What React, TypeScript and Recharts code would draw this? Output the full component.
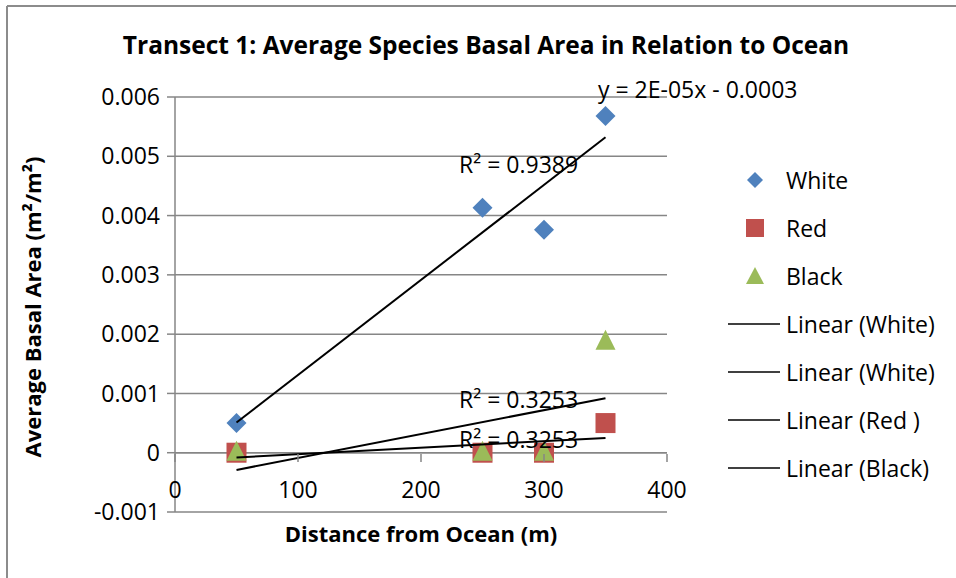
import { CartesianGrid, ReferenceLine, Scatter, ScatterChart, XAxis, YAxis } from "recharts";

const distances = [50, 250, 300, 350];
const whiteArea = [0.0005, 0.00413, 0.00376, 0.00568];
const redArea = [0, 0, 0, 0.0005];
const blackArea = [0, 0, 0, 0.00187];

// trendline end points
const fitX = [50, 350];
const whiteFit = [0.00051, 0.00532];
const redFit = [-0.00008, 0.00025];
const blackFit = [-0.00029, 0.00092];

const xTicks = [0, 100, 200, 300, 400];
const yTicks = [-0.001, 0, 0.001, 0.002, 0.003, 0.004, 0.005, 0.006];

const toPoints = (xs: number[], ys: number[]) => xs.map((x, i) => ({ x, y: ys[i] }));

const BLUE = "#4F81BD";
const RED = "#C0504D";
const GREEN = "#9BBB59";
const GRID = "#868686";
const FONT = "'Open Sans', Lato, sans-serif";

const Diamond = (p: any) => {
  const { cx, cy } = p;
  const r = 10;
  return <path d={`M${cx},${cy - r}L${cx + r},${cy}L${cx},${cy + r}L${cx - r},${cy}Z`} fill={BLUE} />;
};

const Square = (p: any) => {
  const { cx, cy } = p;
  return <rect x={cx - 10} y={cy - 10} width={20} height={20} fill={RED} />;
};

const Triangle = (p: any) => {
  const { cx, cy } = p;
  return <path d={`M${cx},${cy - 12}L${cx + 10},${cy + 8}L${cx - 10},${cy + 8}Z`} fill={GREEN} />;
};

const NoDot = () => <g />;

// x labels sit just under the zero line, not at the bottom of the plot
const XTick = (p: any) => {
  const { x, y, payload } = p;
  return (
    <g>
      <line x1={x} x2={x} y1={y - 60} y2={y - 52} stroke={GRID} strokeWidth={1.5} />
      <text x={x} y={y - 16} textAnchor="middle" fontSize={23} fontFamily={FONT} fill="#000">
        {payload.value}
      </text>
    </g>
  );
};

const legendItems = [
  { label: "White", kind: "diamond" },
  { label: "Red", kind: "square" },
  { label: "Black", kind: "triangle" },
  { label: "Linear (White)", kind: "line" },
  { label: "Linear (White)", kind: "line" },
  { label: "Linear (Red )", kind: "line" },
  { label: "Linear (Black)", kind: "line" },
];

function LegendIcon({ kind }: { kind: string }) {
  return (
    <svg width={60} height={24} style={{ display: "block" }}>
      {kind === "diamond" && <path d="M29,4L37,12L29,20L21,12Z" fill={BLUE} />}
      {kind === "square" && <rect x={20} y={3} width={18} height={18} fill={RED} />}
      {kind === "triangle" && <path d="M29,3L38,20L20,20Z" fill={GREEN} />}
      {kind === "line" && <line x1={2} x2={54} y1={12} y2={12} stroke="#000" strokeWidth={1.5} />}
    </svg>
  );
}

const textStyle = { position: "absolute" as const, fontFamily: FONT, fontSize: 23, color: "#000", whiteSpace: "nowrap" as const, lineHeight: 1 };

export default function App() {
  return (
    <div style={{ position: "relative", width: 956, height: 578, background: "#fff", overflow: "hidden" }}>
      <style>{"body { margin: 0; }"}</style>
      <ScatterChart width={956} height={578} margin={{ top: 97, right: 289, bottom: 36, left: 95 }}>
        <CartesianGrid horizontal vertical={false} stroke={GRID} strokeWidth={1.5} />
        <XAxis
          type="number"
          dataKey="x"
          domain={[0, 400]}
          ticks={xTicks}
          axisLine={false}
          tickLine={false}
          tickSize={0}
          height={30}
          tick={<XTick />}
          interval={0}
        />
        <YAxis
          type="number"
          dataKey="y"
          domain={[-0.001, 0.006]}
          ticks={yTicks}
          width={80}
          interval={0}
          tickFormatter={(v: number) => (v === 0 ? "0" : v.toFixed(3))}
          axisLine={{ stroke: GRID, strokeWidth: 1.5 }}
          tickLine={{ stroke: GRID, strokeWidth: 1.5 }}
          tickSize={8}
          tickMargin={7}
          tick={{ fontSize: 23, fontFamily: FONT, fill: "#000" }}
        />
        <ReferenceLine y={0} stroke={GRID} strokeWidth={1.5} />
        <Scatter data={toPoints(distances, whiteArea)} shape={Diamond} isAnimationActive={false} />
        <Scatter data={toPoints(distances, redArea)} shape={Square} isAnimationActive={false} />
        <Scatter data={toPoints(distances, blackArea)} shape={Triangle} isAnimationActive={false} />
        <Scatter data={toPoints(fitX, whiteFit)} line={{ stroke: "#000", strokeWidth: 2 }} shape={NoDot} isAnimationActive={false} />
        <Scatter data={toPoints(fitX, redFit)} line={{ stroke: "#000", strokeWidth: 2 }} shape={NoDot} isAnimationActive={false} />
        <Scatter data={toPoints(fitX, blackFit)} line={{ stroke: "#000", strokeWidth: 2 }} shape={NoDot} isAnimationActive={false} />
      </ScatterChart>

      <div style={{ ...textStyle, left: 0, width: 972, top: 33, textAlign: "center", fontWeight: 700, fontSize: 24.5 }}>
        Transect 1: Average Species Basal Area in Relation to Ocean
      </div>
      <div
        style={{
          ...textStyle,
          fontWeight: 700,
          fontSize: 22,
          left: 32,
          top: 307,
          transform: "translate(-50%, -50%) rotate(-90deg)",
        }}
      >
        Average Basal Area (m²/m²)
      </div>
      <div style={{ ...textStyle, fontWeight: 700, fontSize: 22, left: 421, top: 533, transform: "translate(-50%, -50%)" }}>
        Distance from Ocean (m)
      </div>

      <div style={{ ...textStyle, left: 598, top: 78 }}>y = 2E-05x - 0.0003</div>
      <div style={{ ...textStyle, left: 459, top: 153 }}>R² = 0.9389</div>
      <div style={{ ...textStyle, left: 459, top: 388 }}>R² = 0.3253</div>
      <div style={{ ...textStyle, left: 459, top: 428 }}>R² = 0.3253</div>

      <div style={{ position: "absolute", left: 726, top: 156 }}>
        {legendItems.map((item, i) => (
          <div key={i} style={{ display: "flex", alignItems: "center", height: 48 }}>
            <LegendIcon kind={item.kind} />
            <span style={{ fontFamily: FONT, fontSize: 23, lineHeight: 1 }}>{item.label}</span>
          </div>
        ))}
      </div>

      <svg width={956} height={578} style={{ position: "absolute", left: 0, top: 0, pointerEvents: "none" }}>
        <line x1={7} y1={6} x2={956} y2={6} stroke="#8c8c8c" strokeWidth={2} />
        <line x1={7} y1={6} x2={7} y2={578} stroke="#8c8c8c" strokeWidth={2} />
      </svg>
    </div>
  );
}
